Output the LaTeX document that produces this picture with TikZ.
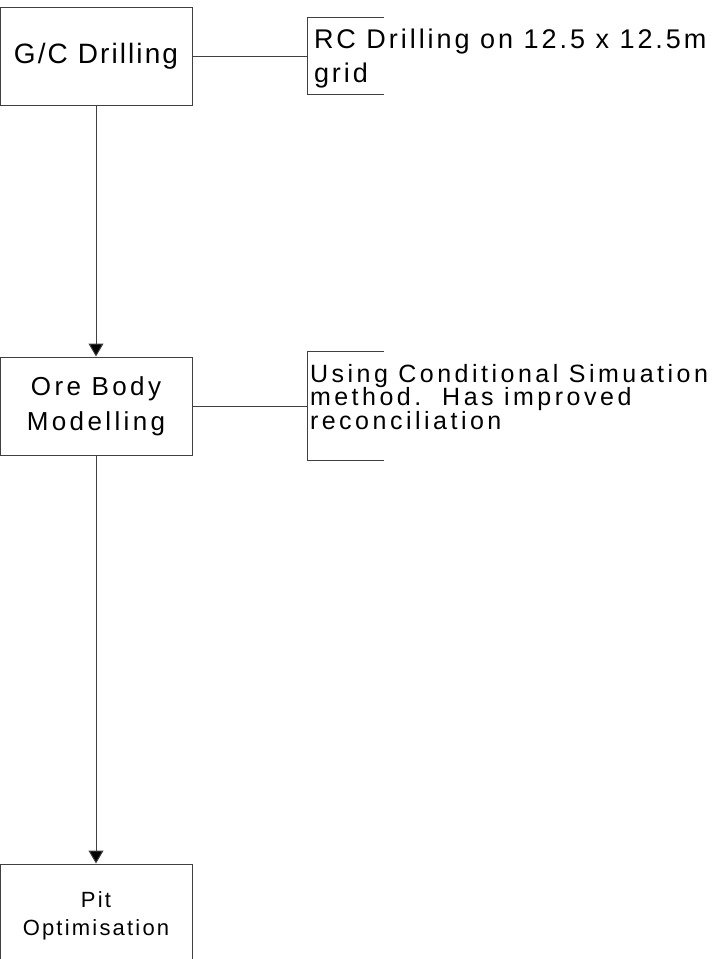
\documentclass[tikz,border=0pt]{standalone}
\usepackage{fontspec}
\setmainfont{Liberation Sans}
\usetikzlibrary{arrows.meta}
\usetikzlibrary{positioning}
\tikzset{
  stage/.style={draw, minimum width=96pt, minimum height=49pt,
    align=center, inner sep=0pt, text=black},
  bracket/.style={minimum width=37.5pt, inner sep=0pt},
  notetext/.style={anchor=north west, align=left, inner sep=0pt, text=black}
}

\begin{document}
\begin{tikzpicture}[->,>={Triangle[length=6.5pt,width=7.5pt,fill=black]},
      x=0.5pt, y=-0.5pt,
      on grid,
      line width=0.5pt,
      color=black!75]

    \useasboundingbox (0,0) rectangle (722,959);
    \clip (0,0) rectangle (722,959);

    \node[stage, font={\fontsize{14}{17}\selectfont\addfontfeatures{LetterSpace=7.5}}]
      (GCDrill) at (96,56) {G/C Drilling};
    \node[stage, font={\fontsize{13}{17.5}\selectfont\addfontfeatures{LetterSpace=13}}]
      (OreBody) [below=175pt of GCDrill] {Ore Body\\Modelling};
    \node[stage, minimum height=51.5pt, font={\fontsize{11}{14}\selectfont\addfontfeatures{LetterSpace=10}}]
      (PitOpt) [below=254.75pt of OreBody] {Pit\\Optimisation};
    \node[bracket, minimum height=38pt]
      (RCBracket) [right=124.75pt of GCDrill] {};
    \node[bracket, minimum height=54pt]
      (CSBracket) [right=124.75pt of OreBody] {};

    % note brackets
    \draw[-] (RCBracket.north east) -- (RCBracket.north west)
      -- (RCBracket.south west) -- (RCBracket.south east);
    \draw[-] (CSBracket.north east) -- (CSBracket.north west)
      -- (CSBracket.south west) -- (CSBracket.south east);

    \node[notetext, font={\fontsize{12.5}{11.75}\selectfont\addfontfeatures{LetterSpace=14}}]
      (CSNote) at ([xshift=1pt,yshift=-6pt]CSBracket.north west)
      {Using Conditional Simuation\\method.\ \ Has improved\\reconciliation};
    \node[notetext, font={\fontsize{13.5}{17}\selectfont\addfontfeatures{LetterSpace=11}}]
      (RCNote) at ([xshift=3pt,yshift=-5.5pt]RCBracket.north west)
      {RC Drilling on 12.5 x 12.5m\\grid};

    \path
      (GCDrill) edge (OreBody)
      (OreBody) edge (PitOpt)
      (GCDrill) edge[-] (RCBracket)
      (OreBody) edge[-] (CSBracket);

\end{tikzpicture}
\end{document}
